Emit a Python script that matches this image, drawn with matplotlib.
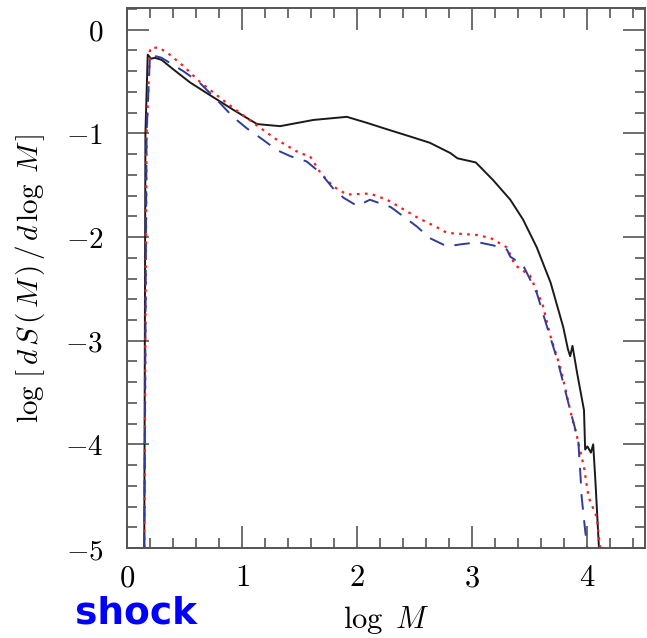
import matplotlib
matplotlib.use("Agg")
import matplotlib.pyplot as plt
from matplotlib.ticker import MultipleLocator

plt.rcParams['mathtext.fontset'] = 'cm'

# black solid
solid_x = [0.15, 0.16, 0.18, 0.21, 0.24, 0.30, 0.40, 0.55, 0.72, 0.92, 1.13, 1.33, 1.62, 1.91, 2.09, 2.23,
           2.46, 2.63, 2.81, 2.87, 3.03, 3.18, 3.33, 3.44, 3.56, 3.68, 3.79, 3.83, 3.85, 3.87, 3.91,
           3.97, 3.98, 4.00, 4.03, 4.05, 4.07, 4.10]
solid_y = [-5.0, -1.0, -0.24, -0.28, -0.27, -0.29, -0.38, -0.51, -0.63, -0.77, -0.91, -0.93, -0.87, -0.84, -0.90, -0.95,
           -1.03, -1.09, -1.19, -1.24, -1.28, -1.45, -1.64, -1.83, -2.10, -2.44, -2.87, -3.08, -3.15, -3.05, -3.31,
           -3.67, -4.05, -4.02, -4.08, -4.00, -4.37, -5.0]

# red dotted
dot_x = [0.15, 0.17, 0.20, 0.27, 0.35, 0.49, 0.63, 0.87, 1.10, 1.30, 1.50, 1.59, 1.68, 1.79, 1.91, 2.11,
         2.26, 2.52, 2.70, 2.78, 3.04, 3.16, 3.30, 3.37, 3.50, 3.61, 3.68, 3.77, 3.85, 3.91, 3.97,
         4.01, 4.08, 4.11]
dot_y = [-5.0, -1.0, -0.18, -0.17, -0.22, -0.35, -0.50, -0.71, -0.90, -1.06, -1.19, -1.22, -1.38, -1.51, -1.59, -1.58,
         -1.64, -1.81, -1.91, -1.96, -1.98, -2.01, -2.10, -2.27, -2.37, -2.65, -2.96, -3.28, -3.67, -3.93, -4.22,
         -4.51, -4.70, -5.0]

# blue dashed
dash_x = [0.15, 0.17, 0.20, 0.30, 0.49, 0.63, 0.81, 0.92, 1.04, 1.18, 1.30, 1.42, 1.56, 1.68, 1.79, 1.88,
          2.00, 2.11, 2.29, 2.40, 2.52, 2.63, 2.78, 2.90, 3.05, 3.18, 3.30, 3.33, 3.44, 3.56, 3.65,
          3.74, 3.85, 3.92, 3.94, 3.95, 3.98, 4.00]
dash_y = [-5.0, -1.0, -0.24, -0.27, -0.40, -0.51, -0.71, -0.84, -0.95, -1.06, -1.16, -1.22, -1.27, -1.38, -1.53, -1.62,
          -1.70, -1.64, -1.71, -1.80, -1.90, -2.01, -2.09, -2.07, -2.05, -2.08, -2.12, -2.19, -2.27, -2.54, -2.87,
          -3.19, -3.67, -3.96, -4.31, -4.51, -4.83, -5.0]

xticks = [0, 1, 2, 3, 4]
yticks = [0, -1, -2, -3, -4, -5]
xticklabels = ['$0$', '$1$', '$2$', '$3$', '$4$']
yticklabels = ['$0$', '$-1$', '$-2$', '$-3$', '$-4$', '$-5$']

fig = plt.figure(figsize=(6.47, 6.38), dpi=100)
ax = fig.add_axes([127/647, 1-548/638, (645-127)/647, (548-8)/638])

ax.plot(solid_x, solid_y, color='#1a1a1a', lw=1.4)
ax.plot(dot_x, dot_y, color='#ff1a1a', lw=1.6, linestyle=(0, (1.2, 2.4)))
ax.plot(dash_x, dash_y, color='#2e3c9c', lw=1.4, linestyle=(0, (8, 5.5)))

ax.set_xlim(0, 4.5)
ax.set_ylim(-5, 0.21)
ax.set_xticks(xticks)
ax.set_xticklabels(xticklabels)
ax.set_yticks(yticks)
ax.set_yticklabels(yticklabels)
ax.xaxis.set_minor_locator(MultipleLocator(0.2))
ax.yaxis.set_minor_locator(MultipleLocator(0.2))
ax.tick_params(which='both', direction='in', top=True, right=True, color='#555555', width=1.2)
ax.tick_params(which='major', length=16)
ax.tick_params(which='minor', length=7.5)
ax.tick_params(axis='x', which='major', labelsize=22, pad=11)
ax.tick_params(axis='y', which='major', labelsize=21, pad=17)
for s in ax.spines.values():
    s.set_color('#555555')
    s.set_linewidth(1.4)

ax.set_ylabel(r'$\log\,[\,d\,S\,(\,M\,)\,/\,d\,\log\;M\,]$', fontsize=21)
ax.yaxis.set_label_coords(-0.154, 0.5)
ax.set_xlabel(r'$\log\ M$', fontsize=22)
ax.xaxis.set_label_coords(0.5, -0.104)

fig.text(75/647, 1-624/638, 'shock', color='#0000ff', fontsize=27, fontweight='bold',
         family='DejaVu Sans', ha='left', va='baseline')

fig.savefig('out.png', dpi=100)
